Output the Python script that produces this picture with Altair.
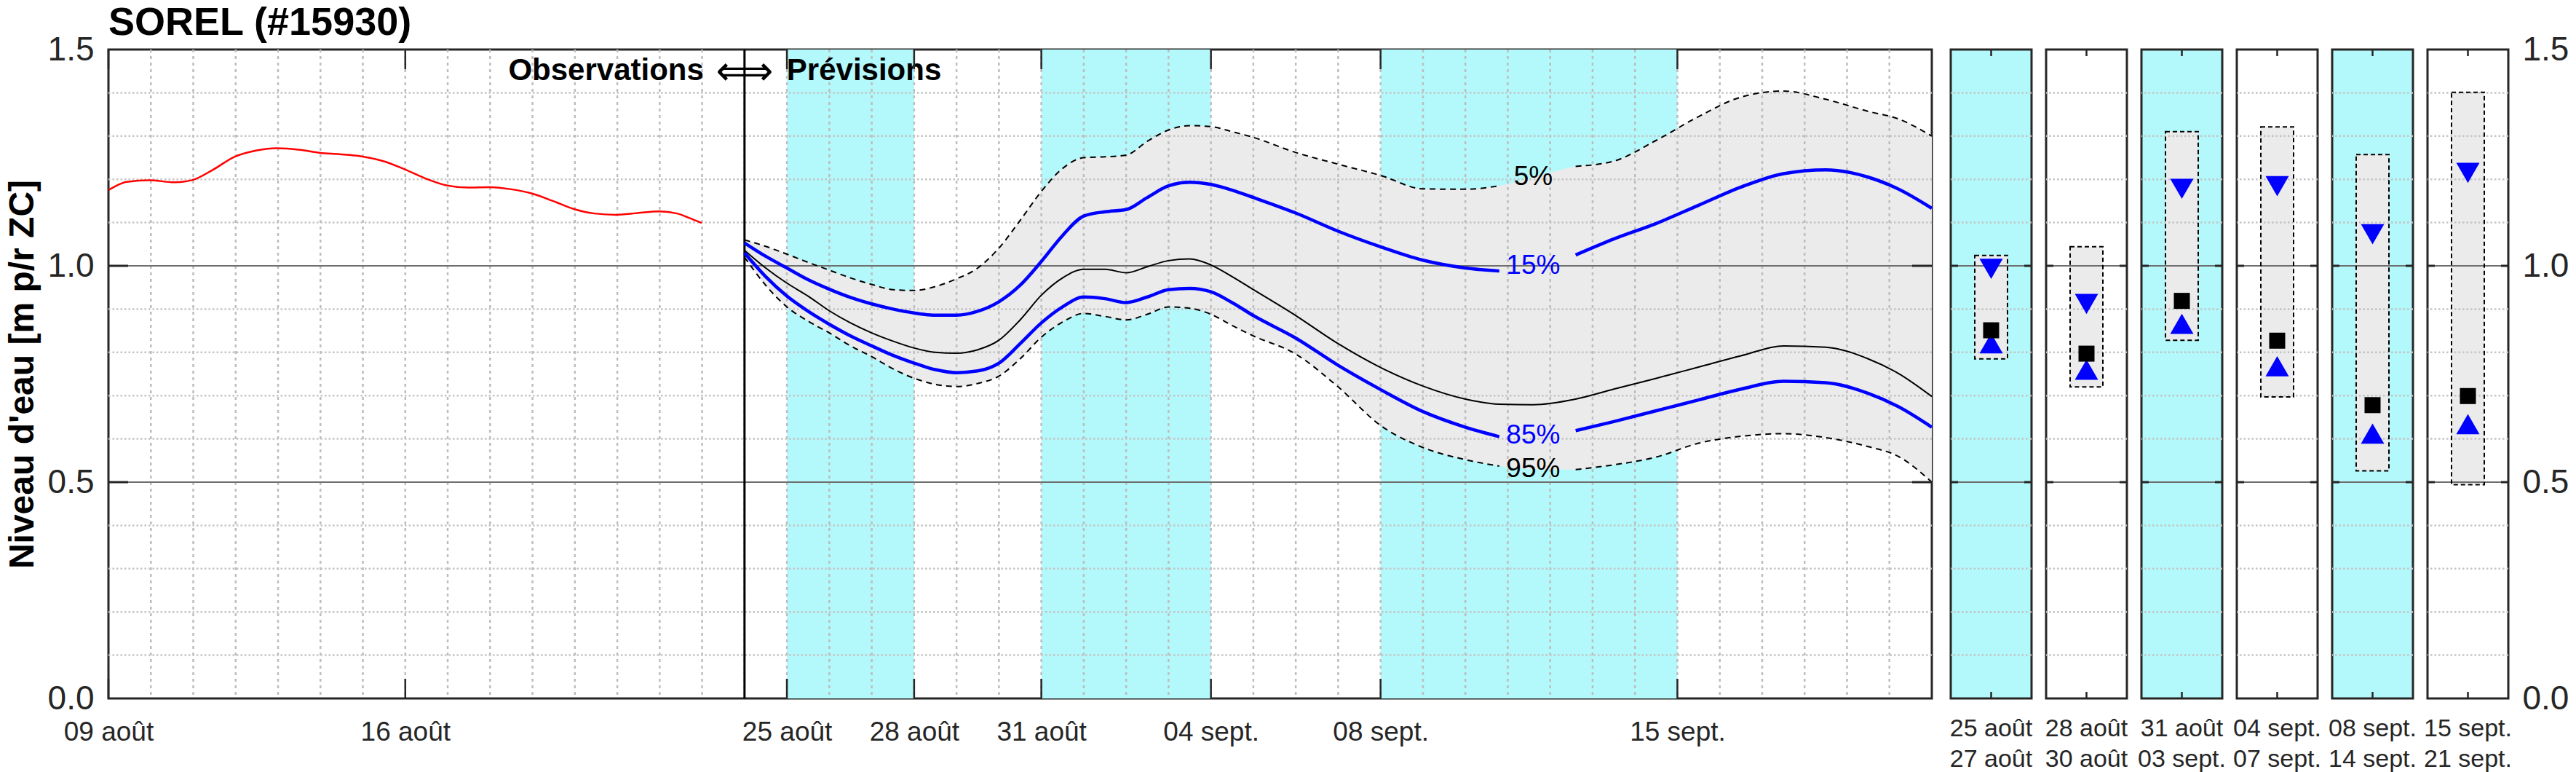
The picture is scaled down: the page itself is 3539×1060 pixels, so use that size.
import altair as alt
import pandas as pd

# ---------------- observed water level (x = days since 09 août 00:00) ----------------
obs_day = [0.0, 0.43, 0.97, 1.55, 1.97, 2.48, 2.97, 3.5, 3.98, 4.52, 4.99, 5.45, 5.97, 6.48, 6.99,
           7.5, 7.97, 8.48, 8.99, 9.5, 9.99, 10.48, 10.99, 11.46, 11.97, 12.48, 12.99, 13.41, 13.69, 13.99]
obs_val = [1.175, 1.194, 1.198, 1.193, 1.198, 1.223, 1.252, 1.267, 1.272, 1.268, 1.261, 1.258, 1.253, 1.242, 1.223,
           1.201, 1.186, 1.181, 1.182, 1.177, 1.167, 1.150, 1.131, 1.121, 1.118, 1.122, 1.126, 1.121, 1.111, 1.099]

# ---------------- forecast quantiles ----------------
fc_day = [15, 15.5, 16, 16.5, 17, 17.5, 18, 18.5, 19, 19.5,
          20, 20.5, 21, 21.5, 22, 22.5, 23, 23.5, 24, 24.5,
          25, 25.5, 26, 26.5, 27, 28, 29, 30, 31, 32,
          32.8, 33.6, 34.6, 35.5, 36.5, 37.5, 38.5, 39.5, 40.5, 41.5,
          42.2, 43]
q05 = [1.060, 1.045, 1.027, 1.008, 0.990, 0.972, 0.957, 0.945, 0.943, 0.952,
       0.970, 0.995, 1.041, 1.105, 1.172, 1.225, 1.250, 1.252, 1.256, 1.288,
       1.314, 1.324, 1.322, 1.310, 1.297, 1.262, 1.235, 1.209, 1.178, 1.177,
       1.185, 1.205, 1.230, 1.242, 1.290, 1.345, 1.390, 1.404, 1.385, 1.357,
       1.340, 1.300]
q15 = [1.053, 1.022, 0.995, 0.968, 0.946, 0.927, 0.912, 0.900, 0.891, 0.886,
       0.886, 0.895, 0.917, 0.955, 1.010, 1.070, 1.115, 1.125, 1.130, 1.158,
       1.185, 1.193, 1.188, 1.175, 1.158, 1.122, 1.080, 1.044, 1.013, 0.995,
       0.988, 1.000, 1.025, 1.062, 1.098, 1.140, 1.182, 1.213, 1.222, 1.205,
       1.178, 1.133]
q50 = [1.036, 0.995, 0.960, 0.930, 0.896, 0.868, 0.845, 0.826, 0.810, 0.800,
       0.798, 0.806, 0.828, 0.875, 0.932, 0.972, 0.992, 0.992, 0.984, 0.998,
       1.012, 1.016, 1.002, 0.975, 0.945, 0.885, 0.820, 0.765, 0.722, 0.692,
       0.680, 0.679, 0.692, 0.715, 0.740, 0.766, 0.792, 0.815, 0.812, 0.785,
       0.752, 0.698]
q85 = [1.030, 0.975, 0.930, 0.895, 0.865, 0.838, 0.815, 0.793, 0.775, 0.760,
       0.753, 0.757, 0.775, 0.820, 0.868, 0.905, 0.928, 0.924, 0.915, 0.928,
       0.945, 0.948, 0.940, 0.915, 0.885, 0.833, 0.770, 0.714, 0.663, 0.627,
       0.605, 0.608, 0.619, 0.640, 0.665, 0.690, 0.715, 0.733, 0.730, 0.705,
       0.675, 0.627]
q95 = [1.020, 0.955, 0.905, 0.872, 0.845, 0.815, 0.790, 0.762, 0.740, 0.726,
       0.721, 0.728, 0.745, 0.785, 0.835, 0.870, 0.890, 0.883, 0.875, 0.888,
       0.905, 0.902, 0.888, 0.862, 0.838, 0.796, 0.720, 0.631, 0.580, 0.552,
       0.537, 0.530, 0.529, 0.540, 0.558, 0.590, 0.606, 0.612, 0.603, 0.582,
       0.560, 0.500]

# ---------------- x axis / periods ----------------
tick_day = [0, 7, 16, 19, 22, 26, 30, 37]
tick_label = ["09 août", "16 août", "25 août", "28 août", "31 août", "04 sept.", "08 sept.", "15 sept."]
band_start = [16, 22, 30]
band_end = [19, 26, 37]
forecast_start = [15]
label_day = 33.6
curve_labels = ["5%", "15%", "85%", "95%"]
annot_text = ["Observations", "⟺", "Prévisions"]

# ---------------- summary panels ----------------
per_start = ["25 août", "28 août", "31 août", "04 sept.", "08 sept.", "15 sept."]
per_end = ["27 août", "30 août", "03 sept.", "07 sept.", "14 sept.", "21 sept."]
per_shaded = [True, False, True, False, True, False]
s_hi = [1.024, 1.044, 1.310, 1.321, 1.257, 1.401]
s_q15 = [0.993, 0.912, 1.178, 1.184, 1.073, 1.215]
s_q50 = [0.851, 0.797, 0.919, 0.827, 0.678, 0.699]
s_q85 = [0.821, 0.760, 0.866, 0.768, 0.612, 0.634]
s_lo = [0.785, 0.720, 0.828, 0.697, 0.526, 0.494]

y_ticks = [0.0, 0.5, 1.0, 1.5]
y_minor = [0.1, 0.2, 0.3, 0.4, 0.6, 0.7, 0.8, 0.9, 1.1, 1.2, 1.3, 1.4]
y_major = [0.5, 1.0]
grid_days = list(range(1, 43))

# ---------------- styles ----------------
CYAN = "#b3f8fb"
GRAY = "#ebebeb"
FRAME = "#262626"
FONT = "Liberation Sans"
W, H = 2505, 891
PW = 111
XMAX = 43.0
YMAX = 1.5
TLEN_X = 27 * XMAX / W      # inward tick length in days
TLEN_Y = 27 * YMAX / H      # inward tick length in metres

xsc = alt.Scale(domain=[0, XMAX], nice=False, zero=False)
ysc = alt.Scale(domain=[0, YMAX], nice=False, zero=False)

label_expr = "".join(f"datum.value == {d} ? '{l}' : " for d, l in zip(tick_day, tick_label)) + "''"
xaxis = alt.Axis(values=tick_day, labelExpr=label_expr, title=None, grid=False, ticks=False,
                 domain=False, labelFontSize=37, labelPadding=28, labelFlush=False,
                 labelOverlap=False, labelColor=FRAME)
yaxis = alt.Axis(values=y_ticks, format=".1f", title="Niveau d'eau [m p/r ZC]", titleFontSize=48,
                 titleFontWeight="bold", titleColor="black", titlePadding=10, labelFontSize=46,
                 labelPadding=20, grid=False, ticks=False, domain=False, labelColor=FRAME)


def X(f):
    return alt.X(f, scale=xsc, axis=xaxis)


def Y(f):
    return alt.Y(f, scale=ysc, axis=yaxis)


# ---------------- tables ----------------
obs_df = pd.DataFrame({"day": obs_day, "v": obs_val})
fc_df = pd.DataFrame({"day": fc_day, "q05": q05, "q15": q15, "q50": q50, "q85": q85, "q95": q95})
band_df = pd.DataFrame({"start": band_start, "end": band_end})
vgrid_df = pd.DataFrame({"day": grid_days})
minor_df = pd.DataFrame({"v": y_minor})
major_df = pd.DataFrame({"v": y_major})
div_df = pd.DataFrame({"day": forecast_start})


def long_series(name, vals, gap=True):
    rows = []
    for d, v in zip(fc_day, vals):
        if gap and 32.8 < d < 34.6:
            continue
        rows.append({"day": d, "v": v, "s": name, "seg": 0 if d <= 32.8 else 1})
    return pd.DataFrame(rows)


dash_df = pd.concat([long_series("q05", q05), long_series("q95", q95)])
blue_df = pd.concat([long_series("q15", q15), long_series("q85", q85)])
med_df = long_series("q50", q50, gap=False)

li = fc_day.index(label_day)
lab_df = pd.DataFrame({"day": [label_day] * 4, "v": [q05[li], q15[li], q85[li], q95[li]],
                       "t": curve_labels, "c": ["black", "blue", "blue", "black"]})
xt_df = pd.DataFrame({"day": tick_day})
xt_df["b0"] = 0.0
xt_df["b1"] = TLEN_Y
xt_df["t0"] = YMAX - TLEN_Y
xt_df["t1"] = YMAX
yt_df = pd.DataFrame({"v": y_major})
yt_df["l0"] = 0.0
yt_df["l1"] = TLEN_X
yt_df["r0"] = XMAX - TLEN_X
yt_df["r1"] = XMAX

# ---------------- main panel ----------------
bands = alt.Chart(band_df).mark_rect(color=CYAN).encode(x=X("start:Q"), x2="end:Q")
area = alt.Chart(fc_df).mark_area(color=GRAY, interpolate="monotone").encode(x=X("day:Q"), y=Y("q05:Q"), y2="q95:Q")
vgrid = alt.Chart(vgrid_df).mark_rule(color="#bdbdbd", strokeWidth=2.5, strokeDash=[4, 5]).encode(x=X("day:Q"))
hminor = alt.Chart(minor_df).mark_rule(color="#c4c4c4", strokeWidth=2.5, strokeDash=[2.5, 3]).encode(y=Y("v:Q"))
hmajor = alt.Chart(major_df).mark_rule(color="#6e6e6e", strokeWidth=2).encode(y=Y("v:Q"))
divider = alt.Chart(div_df).mark_rule(color="black", strokeWidth=3).encode(x=X("day:Q"))
obs = alt.Chart(obs_df).mark_line(color="#ff0000", strokeWidth=2.5, interpolate="monotone").encode(x=X("day:Q"), y=Y("v:Q"))
dashed = alt.Chart(dash_df).mark_line(color="black", strokeWidth=2, strokeDash=[8, 6], interpolate="monotone").encode(
    x=X("day:Q"), y=Y("v:Q"), detail=["s:N", "seg:N"])
median = alt.Chart(med_df).mark_line(color="black", strokeWidth=2, interpolate="monotone").encode(x=X("day:Q"), y=Y("v:Q"))
blue = alt.Chart(blue_df).mark_line(color="#0000ff", strokeWidth=4.5, interpolate="monotone").encode(
    x=X("day:Q"), y=Y("v:Q"), detail=["s:N", "seg:N"])
labels = alt.Chart(lab_df).mark_text(fontSize=37, align="center", baseline="middle").encode(
    x=X("day:Q"), y=Y("v:Q"), text="t:N", color=alt.Color("c:N", scale=None))
ann_obs = alt.Chart(div_df).mark_text(text=annot_text[0], fontSize=42, fontWeight="bold", align="right",
                                      baseline="alphabetic", dx=-56, color="black").encode(x=X("day:Q"), y=alt.value(42))
ann_arrow = alt.Chart(div_df).mark_text(text=annot_text[1], fontSize=55, font="DejaVu Sans", align="center",
                                        baseline="alphabetic", color="black").encode(x=X("day:Q"), y=alt.value(48))
ann_prev = alt.Chart(div_df).mark_text(text=annot_text[2], fontSize=42, fontWeight="bold", align="left",
                                       baseline="alphabetic", dx=58, color="black").encode(x=X("day:Q"), y=alt.value(42))
tick_b = alt.Chart(xt_df).mark_rule(color=FRAME, strokeWidth=2.5).encode(x=X("day:Q"), y=Y("b0:Q"), y2="b1:Q")
tick_t = alt.Chart(xt_df).mark_rule(color=FRAME, strokeWidth=2.5).encode(x=X("day:Q"), y=Y("t0:Q"), y2="t1:Q")
tick_l = alt.Chart(yt_df).mark_rule(color=FRAME, strokeWidth=3).encode(y=Y("v:Q"), x=X("l0:Q"), x2="l1:Q")
tick_r = alt.Chart(yt_df).mark_rule(color=FRAME, strokeWidth=3).encode(y=Y("v:Q"), x=X("r0:Q"), x2="r1:Q")

main = alt.layer(
    bands, area, vgrid, hminor, hmajor, divider, obs, dashed, median, blue, labels,
    ann_obs, ann_arrow, ann_prev, tick_b, tick_t, tick_l, tick_r
).properties(
    width=W, height=H,
    view=alt.ViewBackground(fill="white", stroke=FRAME, strokeWidth=3),
    title=alt.Title("SOREL (#15930)", anchor="start", frame="group", fontSize=54, fontWeight="bold",
                    color="black", offset=-14),
)


# ---------------- summary panels ----------------
def panel(i):
    row = pd.DataFrame({"per": [per_start[i] + "|" + per_end[i]], "hi": [s_hi[i]], "q15": [s_q15[i]],
                        "q50": [s_q50[i]], "q85": [s_q85[i]], "lo": [s_lo[i]]})
    last = i == len(per_start) - 1
    if last:
        pax = alt.Axis(orient="right", values=y_ticks, format=".1f", title=None, labelFontSize=46,
                       labelPadding=19, ticks=False, domain=False, grid=False, labelColor=FRAME)
    else:
        pax = None
    px = alt.X("per:N", scale=alt.Scale(paddingInner=0, paddingOuter=0),
               axis=alt.Axis(title=None, labelExpr="split(datum.label, '|')", labelAngle=0, ticks=False,
                             domain=False, labelFontSize=34, labelLineHeight=42, labelPadding=24,
                             labelColor=FRAME))

    def PY(f):
        return alt.Y(f, scale=ysc, axis=pax)

    base = alt.Chart(row)
    box_fill = base.mark_bar(width=45, color=GRAY).encode(x=px, y=PY("hi:Q"), y2="lo:Q")
    g_minor = alt.Chart(minor_df).mark_rule(color="#c4c4c4", strokeWidth=2.5, strokeDash=[2.5, 3]).encode(y=PY("v:Q"))
    g_major = alt.Chart(major_df).mark_rule(color="#6e6e6e", strokeWidth=2).encode(y=PY("v:Q"))
    box_line = base.mark_bar(width=45, fillOpacity=0, stroke="black", strokeWidth=2, strokeDash=[6, 4]).encode(
        x=px, y=PY("hi:Q"), y2="lo:Q")
    m15 = base.mark_point(shape="triangle-down", size=1024, filled=True, color="#0000ff", opacity=1).encode(x=px, y=PY("q15:Q"))
    m50 = base.mark_point(shape="square", size=484, filled=True, color="black", opacity=1).encode(x=px, y=PY("q50:Q"))
    m85 = base.mark_point(shape="triangle-up", size=1024, filled=True, color="#0000ff", opacity=1).encode(x=px, y=PY("q85:Q"))
    tk_b = base.mark_rule(color=FRAME, strokeWidth=2.5).encode(x=px, y=alt.value(H - 9), y2=alt.value(H))
    tk_t = base.mark_rule(color=FRAME, strokeWidth=2.5).encode(x=px, y=alt.value(0), y2=alt.value(9))
    st_l = alt.Chart(major_df).mark_rule(color=FRAME, strokeWidth=3).encode(y=PY("v:Q"), x=alt.value(0), x2=alt.value(10))
    st_r = alt.Chart(major_df).mark_rule(color=FRAME, strokeWidth=3).encode(y=PY("v:Q"), x=alt.value(PW - 10), x2=alt.value(PW))
    return alt.layer(box_fill, g_minor, g_major, box_line, m85, m50, m15, tk_b, tk_t, st_l, st_r).properties(
        width=PW, height=H,
        view=alt.ViewBackground(fill=CYAN if per_shaded[i] else "white", stroke=FRAME, strokeWidth=3),
    )


panels = alt.hconcat(*[panel(i) for i in range(len(per_start))], spacing=20, bounds="flush")

chart = alt.hconcat(main, panels, spacing=26, bounds="flush").properties(
    padding={"left": 5, "right": 2, "top": 3, "bottom": 2}
).configure(font=FONT).configure_view(stroke=FRAME, strokeWidth=3)

chart.save("out.html", embed_options={"renderer": "svg", "actions": False})
